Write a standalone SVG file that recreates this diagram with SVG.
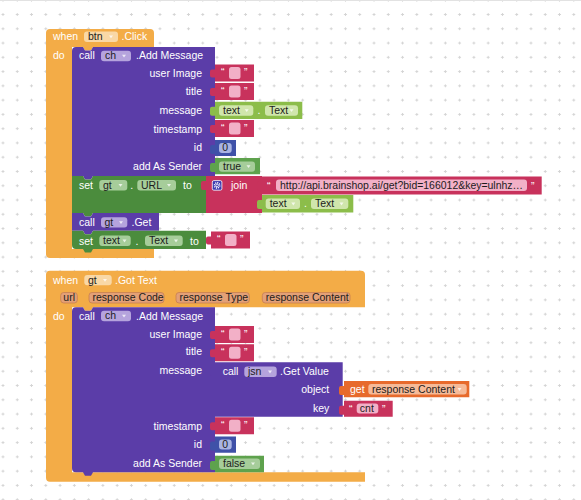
<svg xmlns="http://www.w3.org/2000/svg" width="581" height="500" viewBox="0 0 581 500">
<defs>
<pattern id="grid" width="14.27" height="14.27" patternUnits="userSpaceOnUse" x="-4.135" y="7.365">
<path d="M5.6,7.135h3M7.135,5.6v3" stroke="#d4d4d4" stroke-width="1"/>
</pattern>
<g id="etxt">
<path class="tx" d="M0,0H39V17H0V13h-3q-2,0 -2,-2v-4q0,-2 2,-2h3Z"/>
<text x="6" y="11.5" class="w">“</text>
<rect x="14" y="2.5" width="11.5" height="12" rx="2.5" class="pt"/>
<text x="29" y="11.5" class="w">”</text>
</g>
<path id="tri" d="M-2,-1.3H2L0,1.5Z" fill="#fff" opacity="0.75"/>
</defs>
<style>
text{font-family:"Liberation Sans",Arial,Helvetica,sans-serif;font-size:10.5px}
.w{fill:#ffffff}
.d{fill:#1c1c1c}
.ev{fill:#F3AC47}
.pu{fill:#5B3DA8}
.st{fill:#4B8C3D}
.lo{fill:#5EA24D}
.li{fill:#8CBD4A}
.tx{fill:#C8325C}
.nu{fill:#3F51A8}
.gv{fill:#E76A2C}
.pe{fill:#F9D8A6}
.pp{fill:#B5A4DD}
.ps{fill:#A6CD9A}
.pl{fill:#D0E6AC}
.pt{fill:#F2B0C7}
.pn{fill:#A9B4E2}
.pg{fill:#F6BA98}
.pa{fill:#E3A077;stroke:#C77F52;stroke-width:0.8}
</style>
<rect width="581" height="500" fill="#ffffff"/>
<rect width="581" height="500" fill="url(#grid)"/>
<line x1="0" y1="0.5" x2="581" y2="0.5" stroke="#e2e2e2"/>

<g id="connectors"></g>

<!-- Event 1: when btn.Click -->
<g id="evt-btn-click">
<path class="ev" d="M46,33Q46,29 50,29H150Q154,29 154,33V47H93l-2,3.5h-6l-2,-3.5H72V249H154V258H50Q46,258 46,254Z"/>
<text x="53" y="40" class="w">when</text>
<rect x="84" y="31.5" width="34" height="10.5" rx="3" class="pe"/>
<text x="88" y="40" class="d">btn</text>
<use href="#tri" x="111" y="36.8"/>
<text x="121.5" y="40" class="w">.Click</text>
<text x="53" y="59" class="w">do</text>
</g>

<g id="call-ch-addmessage-1">
<path class="pu" d="M72,51Q72,47 76,47H83l2,3.5h6l2,-3.5H215V176H93l-2,3.5h-6l-2,-3.5H72Z"/>
<text x="79" y="59" class="w">call</text>
<rect x="101" y="50.7" width="30" height="10.5" rx="3" class="pp"/>
<text x="105" y="59.2" class="d">ch</text>
<use href="#tri" x="124" y="56"/>
<text x="136" y="59" class="w">.Add Message</text>
<g class="w" text-anchor="end">
<text x="202" y="77">user Image</text>
<text x="202" y="95.4">title</text>
<text x="202" y="113.7">message</text>
<text x="202" y="132.7">timestamp</text>
<text x="202" y="151.2">id</text>
<text x="202" y="169.7">add As Sender</text>
</g>
</g>

<g id="text-userimage-1"><use href="#etxt" x="215" y="64.5"/></g>
<g id="text-title-1"><use href="#etxt" x="215" y="83"/></g>
<g id="get-text-Text-1">
<path class="li" d="M215,101.7H302.3V119H215V115.7h-3q-2,0 -2,-2v-5q0,-2 2,-2h3Z"/>
<rect x="219" y="105.2" width="34.3" height="10.5" rx="3" class="pl"/>
<text x="223" y="113.8" class="d">text</text>
<use href="#tri" x="246.7" y="110.5"/>
<text x="257.5" y="113.8" class="w">.</text>
<rect x="265" y="105.2" width="33" height="10.5" rx="3" class="pl"/>
<text x="269" y="113.8" class="d">Text</text>
<use href="#tri" x="291.5" y="110.5"/>
</g>
<g id="text-timestamp-1"><use href="#etxt" x="215" y="120"/></g>
<g id="num-id-1">
<path class="nu" d="M215,140H236V156H215V154h-3q-2,0 -2,-2v-5q0,-2 2,-2h3Z"/>
<rect x="219" y="143" width="12.7" height="10" rx="3" class="pn"/>
<text x="222.3" y="151.4" class="d">0</text>
</g>
<g id="bool-true">
<path class="lo" d="M215,158H260V174.3H215V172h-3q-2,0 -2,-2v-5q0,-2 2,-2h3Z"/>
<rect x="219" y="161.4" width="36" height="10.3" rx="3" class="ps"/>
<text x="223" y="169.8" class="d">true</text>
<use href="#tri" x="248.5" y="166.6"/>
</g>

<g id="set-gt-URL">
<path class="st" d="M72,176H83l2,3.5h6l2,-3.5H206V213H93l-2,3.5h-6l-2,-3.5H72Z"/>
<text x="79" y="189" class="w">set</text>
<rect x="99.3" y="180" width="28" height="10.5" rx="3" class="ps"/>
<text x="103" y="188.6" class="d">gt</text>
<use href="#tri" x="120.5" y="185.3"/>
<text x="130.3" y="189" class="w">.</text>
<rect x="137.3" y="180" width="38.7" height="10.5" rx="3" class="ps"/>
<text x="141" y="188.6" class="d">URL</text>
<use href="#tri" x="169" y="185.3"/>
<text x="183" y="189" class="w">to</text>
</g>
<g id="join">
<path class="tx" d="M206,176H262V213H206V190h-3q-2,0 -2,-2v-5q0,-2 2,-2h3Z"/>
<rect x="212.3" y="180.6" width="9.6" height="9.6" rx="1.5" fill="#3B3AB0" stroke="#fff" stroke-width="0.8"/>
<circle cx="217.1" cy="185.4" r="2.6" fill="none" stroke="#fff" stroke-width="1.5" stroke-dasharray="1.1 0.9"/>
<circle cx="217.1" cy="185.4" r="1.3" fill="none" stroke="#fff" stroke-width="0.8"/>
<text x="231" y="189" class="w">join</text>
</g>
<g id="text-url">
<path class="tx" d="M262,176.5H541.7V194.5H262V190.5h-3q-2,0 -2,-2v-5q0,-2 2,-2h3Z"/>
<text x="267" y="189.5" class="w">“</text>
<rect x="276" y="179.6" width="251" height="11.4" rx="3" class="pt"/>
<text x="280" y="189" class="d" textLength="243" lengthAdjust="spacingAndGlyphs">http://api.brainshop.ai/get?bid=166012&amp;key=ulnhz…</text>
<text x="531" y="189.5" class="w">”</text>
</g>
<g id="get-text-Text-2">
<path class="li" d="M262,195H353.3V212.5H262V209h-3q-2,0 -2,-2v-5q0,-2 2,-2h3Z"/>
<rect x="265.7" y="198.6" width="34.3" height="10.5" rx="3" class="pl"/>
<text x="269.7" y="207.2" class="d">text</text>
<use href="#tri" x="293.3" y="203.9"/>
<text x="304" y="207.2" class="w">.</text>
<rect x="311" y="198.6" width="37.3" height="10.5" rx="3" class="pl"/>
<text x="315" y="207.2" class="d">Text</text>
<use href="#tri" x="341.5" y="203.9"/>
</g>

<g id="call-gt-Get">
<path class="pu" d="M72,213H83l2,3.5h6l2,-3.5H159V230.7H93l-2,3.5h-6l-2,-3.5H72Z"/>
<text x="79" y="226" class="w">call</text>
<rect x="101" y="217.2" width="26.3" height="10.3" rx="3" class="pp"/>
<text x="104.5" y="225.8" class="d">gt</text>
<use href="#tri" x="121" y="222.5"/>
<text x="131.5" y="226" class="w">.Get</text>
</g>

<g id="set-text-Text">
<path class="st" d="M72,230.7H83l2,3.5h6l2,-3.5H206V249H93l-2,3.5h-6l-2,-3.5H76Q72,249 72,245Z"/>
<text x="79" y="244.5" class="w">set</text>
<rect x="99.3" y="235.6" width="31.4" height="10.5" rx="3" class="ps"/>
<text x="103" y="244.2" class="d">text</text>
<use href="#tri" x="124.5" y="240.9"/>
<text x="135.5" y="244.5" class="w">.</text>
<rect x="145" y="235.6" width="37.7" height="10.5" rx="3" class="ps"/>
<text x="149" y="244.2" class="d">Text</text>
<use href="#tri" x="176" y="240.9"/>
<text x="190" y="244.5" class="w">to</text>
</g>
<g id="text-empty-set"><use href="#etxt" x="211" y="231.6"/></g>

<!-- Event 2: when gt.Got Text -->
<g id="evt-gt-gottext">
<path class="ev" d="M46,274.7Q46,270.7 50,270.7H361Q365,270.7 365,274.7V307.3H93l-2,3.5h-6l-2,-3.5H72V472.3H365V481.7H50Q46,481.7 46,477.7Z"/>
<text x="53" y="284" class="w">when</text>
<rect x="84.3" y="275" width="27.4" height="10.3" rx="3" class="pe"/>
<text x="88" y="283.6" class="d">gt</text>
<use href="#tri" x="105" y="280.3"/>
<text x="115" y="284" class="w">.Got Text</text>
<rect x="60.7" y="292.5" width="16.6" height="10.5" rx="3" class="pa"/>
<text x="63.3" y="301.2" class="d">url</text>
<rect x="89" y="292.5" width="75" height="10.5" rx="3" class="pa"/>
<text x="92.5" y="301.2" class="d">response Code</text>
<rect x="176" y="292.5" width="73.3" height="10.5" rx="3" class="pa"/>
<text x="179.5" y="301.2" class="d">response Type</text>
<rect x="262.3" y="292.5" width="87.7" height="10.5" rx="3" class="pa"/>
<text x="265.8" y="301.2" class="d">response Content</text>
<text x="53" y="320" class="w">do</text>
</g>

<g id="call-ch-addmessage-2">
<path class="pu" d="M72,311.3Q72,307.3 76,307.3H83l2,3.5h6l2,-3.5H215V472.3H93l-2,3.5h-6l-2,-3.5H76Q72,472.3 72,468.3Z"/>
<text x="79" y="320" class="w">call</text>
<rect x="101" y="310.7" width="30" height="10.5" rx="3" class="pp"/>
<text x="105" y="319.2" class="d">ch</text>
<use href="#tri" x="124" y="316"/>
<text x="136" y="320" class="w">.Add Message</text>
<g class="w" text-anchor="end">
<text x="202" y="337.7">user Image</text>
<text x="202" y="355.4">title</text>
<text x="202" y="374.4">message</text>
<text x="202" y="429.7">timestamp</text>
<text x="202" y="448">id</text>
<text x="202" y="467">add As Sender</text>
</g>
</g>

<g id="text-userimage-2"><use href="#etxt" x="215" y="326"/></g>
<g id="text-title-2"><use href="#etxt" x="215" y="344.3"/></g>

<g id="call-jsn-getvalue">
<path class="pu" d="M215,362.3H342.7V416.7H215V376h-3q-2,0 -2,-2v-5q0,-2 2,-2h3Z"/>
<text x="222.7" y="375.4" class="w">call</text>
<rect x="244.3" y="366.6" width="32.4" height="10.3" rx="3" class="pp"/>
<text x="248" y="375.2" class="d">jsn</text>
<use href="#tri" x="270" y="371.9"/>
<text x="280" y="375.4" class="w">.Get Value</text>
<text x="329.3" y="392.7" class="w" text-anchor="end">object</text>
<text x="329.3" y="412.2" class="w" text-anchor="end">key</text>
</g>
<g id="get-response-content">
<path class="gv" d="M344,381H469.3V397.3H344V395h-3q-2,0 -2,-2v-5q0,-2 2,-2h3Z"/>
<text x="350" y="393" class="w">get</text>
<rect x="368.3" y="384" width="98.4" height="10.5" rx="3" class="pg"/>
<text x="372" y="392.7" class="d">response Content</text>
<use href="#tri" x="459.5" y="389.4"/>
</g>
<g id="text-cnt">
<path class="tx" d="M344,400.7H392.7V416.7H344V414.7h-3q-2,0 -2,-2v-5q0,-2 2,-2h3Z"/>
<text x="349" y="413" class="w">“</text>
<rect x="356.7" y="403.5" width="21.6" height="10" rx="3" class="pt"/>
<text x="359.8" y="411.9" class="d">cnt</text>
<text x="382" y="413" class="w">”</text>
</g>

<g id="text-timestamp-2"><use href="#etxt" x="215" y="417.2"/></g>
<g id="num-id-2">
<path class="nu" d="M215,436.5H236V452.7H215V450.5h-3q-2,0 -2,-2v-5q0,-2 2,-2h3Z"/>
<rect x="219" y="439.5" width="12.7" height="10" rx="3" class="pn"/>
<text x="222.3" y="448" class="d">0</text>
</g>
<g id="bool-false">
<path class="lo" d="M215,455.7H264V472.3H215V470h-3q-2,0 -2,-2v-5q0,-2 2,-2h3Z"/>
<rect x="219" y="458.5" width="41" height="10.5" rx="3" class="ps"/>
<text x="223" y="467.2" class="d">false</text>
<use href="#tri" x="253" y="463.8"/>
</g>
</svg>
